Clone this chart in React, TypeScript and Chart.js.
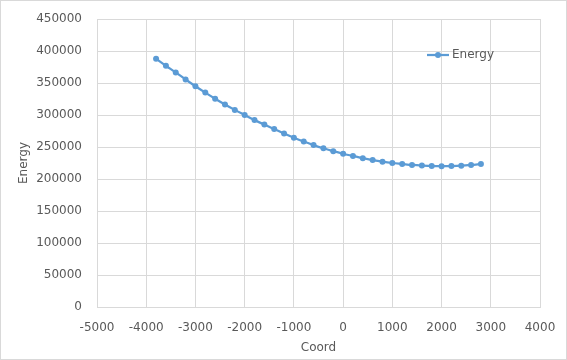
import React, { useEffect, useRef } from "react";
import { Chart, registerables } from "chart.js";

Chart.register(...registerables);

const coords: number[] = [
  -3800, -3600, -3400, -3200, -3000, -2800, -2600, -2400, -2200, -2000,
  -1800, -1600, -1400, -1200, -1000, -800, -600, -400, -200, 0,
  200, 400, 600, 800, 1000, 1200, 1400, 1600, 1800, 2000,
  2200, 2400, 2600, 2800,
];
const energy: number[] = [
  388000, 377000, 366500, 355500, 345000, 335000, 325500, 316500, 308000, 300000,
  292000, 285000, 278000, 271000, 264500, 258500, 253000, 248000, 243500, 239500,
  236000, 232500, 229500, 227000, 225000, 223500, 222000, 221000, 220500, 220000,
  220200, 220800, 222000, 223500,
];
const seriesName = "Energy";
const xTitle = "Coord";
const yTitle = "Energy";
const xRange = { min: -5000, max: 4000, step: 1000 };
const yRange = { min: 0, max: 450000, step: 50000 };

const BLUE = "#5B9BD5";
const TEXT = "#595959";
const GRID = "#D9D9D9";
const FONT = "'DejaVu Sans', sans-serif";

const W = 567;
const H = 360;

const frameAndLegend = {
  id: "frameAndLegend",
  beforeDraw(chart: any) {
    const ctx = chart.ctx;
    ctx.save();
    ctx.fillStyle = "#ffffff";
    ctx.fillRect(0, 0, chart.width, chart.height);
    ctx.strokeStyle = GRID;
    ctx.lineWidth = 1;
    ctx.strokeRect(0.5, 0.5, chart.width - 1, chart.height - 1);
    ctx.restore();
  },
  afterDraw(chart: any) {
    const ctx = chart.ctx;
    const ds = chart.data.datasets[0];
    const x0 = 427;
    const y0 = 55;
    ctx.save();
    ctx.strokeStyle = ds.borderColor;
    ctx.lineWidth = 2.25;
    ctx.beginPath();
    ctx.moveTo(x0, y0);
    ctx.lineTo(x0 + 22, y0);
    ctx.stroke();
    ctx.fillStyle = ds.backgroundColor;
    ctx.beginPath();
    ctx.arc(x0 + 11, y0, 3, 0, Math.PI * 2);
    ctx.fill();
    ctx.fillStyle = TEXT;
    ctx.font = `12px ${FONT}`;
    ctx.textBaseline = "middle";
    ctx.textAlign = "left";
    ctx.fillText(ds.label, x0 + 25, y0);
    ctx.restore();
  },
};

export default function App() {
  const ref = useRef<HTMLCanvasElement>(null);
  useEffect(() => {
    if (!ref.current) return;
    const chart = new Chart(ref.current, {
      type: "line",
      data: {
        datasets: [
          {
            label: seriesName,
            data: coords.map((c, i) => ({ x: c, y: energy[i] })),
            borderColor: BLUE,
            backgroundColor: BLUE,
            borderWidth: 2.25,
            pointRadius: 3,
            pointBorderWidth: 0,
            pointBackgroundColor: BLUE,
            cubicInterpolationMode: "monotone",
            tension: 0.3,
            fill: false,
          },
        ],
      },
      options: {
        animation: false,
        responsive: false,
        devicePixelRatio: 1,
        layout: { padding: { left: 17, top: 19, right: 27, bottom: 5 } },
        plugins: {
          legend: { display: false },
          tooltip: { enabled: false },
        },
        scales: {
          x: {
            type: "linear",
            min: xRange.min,
            max: xRange.max,
            ticks: {
              stepSize: xRange.step,
              color: TEXT,
              font: { family: FONT, size: 12 },
              padding: 14,
              maxRotation: 0,
              callback: (v: any) => String(v),
            },
            grid: { color: GRID, drawTicks: false, lineWidth: 1 },
            border: { display: true, color: GRID },
            title: {
              display: true,
              text: xTitle,
              color: TEXT,
              font: { family: FONT, size: 12 },
              padding: 0,
            },
            afterFit: (s: any) => {
              s.height = H - 307 - 5;
              s.paddingLeft = 0;
              s.paddingRight = 0;
            },
          },
          y: {
            type: "linear",
            min: yRange.min,
            max: yRange.max,
            ticks: {
              stepSize: yRange.step,
              color: TEXT,
              font: { family: FONT, size: 12 },
              padding: 15,
              callback: (v: any) => String(v),
            },
            grid: { color: GRID, drawTicks: false, lineWidth: 1 },
            border: { display: true, color: GRID },
            title: {
              display: true,
              text: yTitle,
              color: TEXT,
              font: { family: FONT, size: 12 },
              padding: 0,
            },
            afterFit: (s: any) => {
              s.width = 97 - 17;
              s.paddingTop = 0;
              s.paddingBottom = 0;
            },
          },
        },
      },
      plugins: [frameAndLegend],
    } as any);
    return () => chart.destroy();
  }, []);
  return (
    <div style={{ position: "fixed", left: 0, top: 0, width: W, height: H, background: "#fff" }}>
      <canvas ref={ref} width={W} height={H} style={{ display: "block", width: W, height: H }} />
    </div>
  );
}
